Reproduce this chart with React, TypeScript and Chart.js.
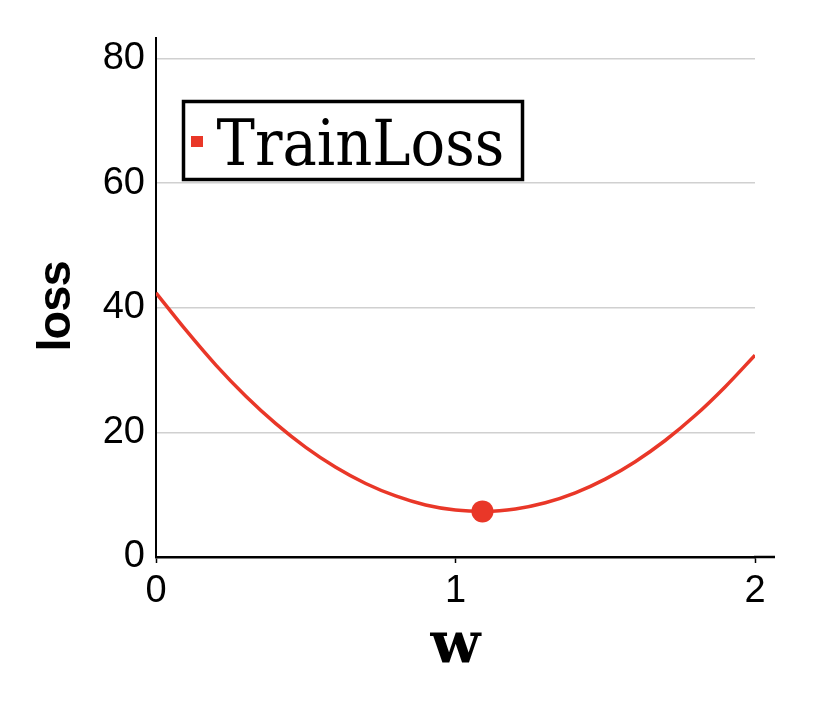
import React, { useEffect, useRef } from "react";
import { Chart, registerables } from "chart.js";

Chart.register(...registerables);

// ---- data ----
const wValues = [0, 0.1, 0.2, 0.3, 0.4, 0.5, 0.6, 0.7, 0.8, 0.9, 1.0, 1.1, 1.2, 1.3, 1.4, 1.5, 1.6, 1.7, 1.8, 1.9, 2.0];
const lossValues = [42.4, 36.4, 30.8, 25.8, 21.4, 17.6, 14.4, 11.8, 9.8, 8.35, 7.54, 7.33, 7.72, 8.71, 10.3, 12.5, 15.3, 18.7, 22.7, 27.3, 32.4];
const currentW = [1.09];
const currentLoss = [7.32];
const xTickValues = [0, 1, 2];
const yTickValues = [0, 20, 40, 60, 80];
const seriesLabel = "TrainLoss";
const xTitle = "w";
const yTitle = "loss";

const RED = "rgb(233, 55, 40)";

const overlayPlugin = {
  id: "overlay",
  afterDraw(chart: any) {
    const { ctx, chartArea } = chart;
    const xs = chart.scales.x;
    ctx.save();
    // x axis line continues a little past the last tick
    ctx.strokeStyle = "#000";
    ctx.lineWidth = 2.5;
    ctx.beginPath();
    ctx.moveTo(chartArea.right - 1, xs.top);
    ctx.lineTo(chartArea.right + 20, xs.top);
    ctx.stroke();

    // y axis title
    ctx.save();
    ctx.translate(70, (chartArea.top + chartArea.bottom) / 2 + 9);
    ctx.rotate(-Math.PI / 2);
    ctx.fillStyle = "#000";
    ctx.font = 'bold 47px "Liberation Sans", Arial, sans-serif';
    try {
      (ctx as any).letterSpacing = "-1px";
    } catch (e) {}
    ctx.textAlign = "center";
    ctx.textBaseline = "alphabetic";
    ctx.fillText(yTitle, 0, 0);
    ctx.restore();

    // legend box
    const bx = chartArea.left + 27.5;
    const by = chartArea.top + 63.5;
    ctx.lineWidth = 3.5;
    ctx.strokeStyle = "#000";
    ctx.fillStyle = "#fff";
    ctx.fillRect(bx, by, 339, 78);
    ctx.strokeRect(bx, by, 339, 78);
    ctx.fillStyle = RED;
    ctx.fillRect(bx + 7.5, by + 34.5, 12, 11);
    ctx.fillStyle = "#000";
    ctx.font = '64px "DejaVu Serif Condensed", "Liberation Serif", serif';
    ctx.textBaseline = "alphabetic";
    ctx.textAlign = "left";
    ctx.fillText(seriesLabel, bx + 33, by + 63.5);
    ctx.restore();
  },
};

export default function App() {
  const canvasRef = useRef<HTMLCanvasElement | null>(null);

  useEffect(() => {
    document.body.style.margin = "0";
    const canvas = canvasRef.current;
    if (!canvas) return;
    const lineData = wValues.map((w, i) => ({ x: w, y: lossValues[i] }));
    const pointData = currentW.map((w, i) => ({ x: w, y: currentLoss[i] }));

    const chart = new Chart(canvas, {
      type: "line",
      data: {
        datasets: [
          {
            label: "current",
            data: pointData,
            showLine: false,
            pointRadius: 11,
            pointBackgroundColor: RED,
            pointBorderWidth: 0,
            borderColor: RED,
          },
          {
            label: seriesLabel,
            data: lineData,
            borderColor: RED,
            borderWidth: 3.5,
            pointRadius: 0,
            cubicInterpolationMode: "monotone",
            fill: false,
          },
        ],
      },
      options: {
        animation: false,
        responsive: false,
        devicePixelRatio: 1,
        layout: { padding: { left: 0, right: 73, top: 38, bottom: 0 } },
        plugins: { legend: { display: false }, tooltip: { enabled: false } },
        scales: {
          x: {
            type: "linear",
            min: 0,
            max: 2,
            afterBuildTicks: (s: any) => {
              s.ticks = xTickValues.map((v) => ({ value: v }));
            },
            afterFit: (s: any) => {
              s.height = 145;
            },
            ticks: {
              color: "#000",
              padding: 6,
              font: { family: '"Liberation Sans", Arial, sans-serif', size: 38 },
              maxRotation: 0,
            },
            grid: {
              display: true,
              drawOnChartArea: false,
              drawTicks: true,
              tickLength: 6,
              tickColor: "#000",
              tickWidth: 1.5,
            },
            border: { display: true, color: "#000", width: 2.5 },
            title: {
              display: true,
              text: xTitle,
              color: "#000",
              font: { family: '"DejaVu Serif", serif', size: 58, weight: "bold", lineHeight: 1.2 },
              padding: { top: 0, bottom: 19 },
            },
          },
          y: {
            type: "linear",
            min: 0,
            max: 83.3,
            afterBuildTicks: (s: any) => {
              s.ticks = yTickValues.map((v) => ({ value: v }));
            },
            afterFit: (s: any) => {
              s.width = 156;
            },
            ticks: {
              color: "#000",
              padding: 11,
              font: { family: '"Liberation Sans", Arial, sans-serif', size: 38 },
            },
            grid: {
              display: true,
              drawTicks: false,
              color: (c: any) => (c.tick && c.tick.value === 0 ? "rgba(0,0,0,0)" : "#d0d0d0"),
              lineWidth: 1.5,
            },
            border: { display: true, color: "#000", width: 2 },
            title: { display: false },
          },
        },
      },
      plugins: [overlayPlugin],
    } as any);

    return () => chart.destroy();
  }, []);

  return (
    <div style={{ width: 828, height: 702, background: "#fff" }}>
      <canvas ref={canvasRef} width={828} height={702} />
    </div>
  );
}
